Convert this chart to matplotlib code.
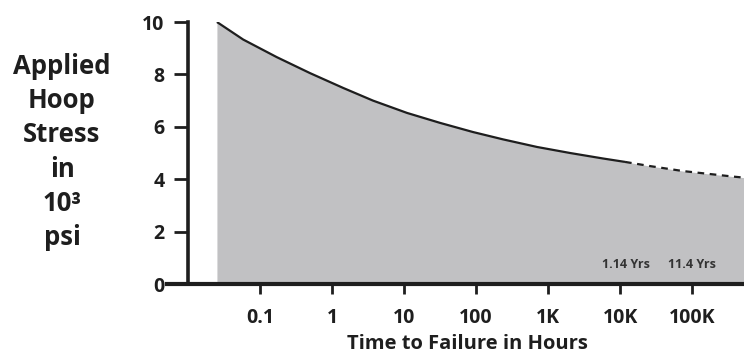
import numpy as np
import matplotlib
matplotlib.use("Agg")
import matplotlib.pyplot as plt

# Data
hours_solid = [0.0253, 0.0586, 0.171, 0.495, 1.44, 3.71, 11.0, 31.6, 90.8, 237, 703,
               2020, 5800, 11700]
stress_solid = [10.0, 9.33, 8.66, 8.05, 7.48, 7.00, 6.53, 6.15, 5.80, 5.52, 5.23,
                5.00, 4.79, 4.66]
hours_dash = [11700, 26100, 75000, 370000, 525000]
stress_dash = [4.66, 4.50, 4.31, 4.10, 4.06]
xtick_vals = [0.1, 1, 10, 100, 1000, 10000, 100000]
xtick_labels = ["0.1", "1", "10", "100", "1K", "10K", "100K"]
ytick_vals = [0, 2, 4, 6, 8, 10]
annotations = ["1.14 Yrs", "11.4 Yrs"]
annotation_x = [12100, 100000]

FONT = "Open Sans"
DARK = "#1e1e1e"
FILL = "#c1c1c3"

fig = plt.figure(figsize=(7.44, 3.56), dpi=100)
ax = fig.add_axes([167 / 744, 72 / 356, 577 / 744, 262 / 356])
ax.set_xscale("log")
ax.set_xlim(10 ** -2.29, 10 ** 5.72)
ax.set_ylim(0, 10)

hx = hours_solid + hours_dash[1:]
hy = stress_solid + stress_dash[1:]
ax.fill_between(hx, 0, hy, color=FILL, linewidth=0, zorder=1)
ax.plot(hours_solid, stress_solid, color=DARK, lw=1.6, zorder=3,
        solid_capstyle="butt", solid_joinstyle="round")
ax.plot(hours_dash, stress_dash, color=DARK, lw=1.6, ls=(0, (3, 2.5)), zorder=3)

for sp in ["top", "right"]:
    ax.spines[sp].set_visible(False)
ax.spines["left"].set_position(("data", 0.01))
ax.spines["left"].set_linewidth(2.6)
ax.spines["bottom"].set_linewidth(3.0)
ax.spines["left"].set_color(DARK)
ax.spines["bottom"].set_color(DARK)
for sp in ax.spines.values():
    sp.set_zorder(4)

ax.set_yticks(ytick_vals)
ax.set_yticklabels([str(v) for v in ytick_vals])
ax.set_xticks(xtick_vals)
ax.set_xticklabels(xtick_labels)
ax.minorticks_off()
ax.tick_params(axis="y", direction="out", length=10, width=2.0, color=DARK, pad=7,
               labelsize=14, labelcolor=DARK)
ax.tick_params(axis="x", direction="out", length=7, width=2.0, color=DARK, pad=10,
               labelsize=14, labelcolor=DARK)
for lab in ax.get_xticklabels() + ax.get_yticklabels():
    lab.set_fontfamily(FONT)
    lab.set_fontweight("bold")

ax.set_xlabel("Time to Failure in Hours", fontsize=14.5, fontweight="bold",
              fontfamily=FONT, color=DARK, labelpad=0)
ax.xaxis.set_label_coords((467 - 167) / 577, -(334 - 284) / 262)

fig.text(62 / 744, 1 - 152 / 356, "Applied\nHoop\nStress\nin\n10\u00b3\npsi",
         ha="center", va="center", fontsize=18.5, fontweight="bold",
         fontfamily=FONT, color=DARK, linespacing=1.34)

for t, xv in zip(annotations, annotation_x):
    ax.text(xv, 0.73, t, ha="center", va="center", fontsize=9, fontweight="bold",
            fontfamily=FONT, color="#333333", zorder=5)

fig.savefig("out.png", dpi=100)
